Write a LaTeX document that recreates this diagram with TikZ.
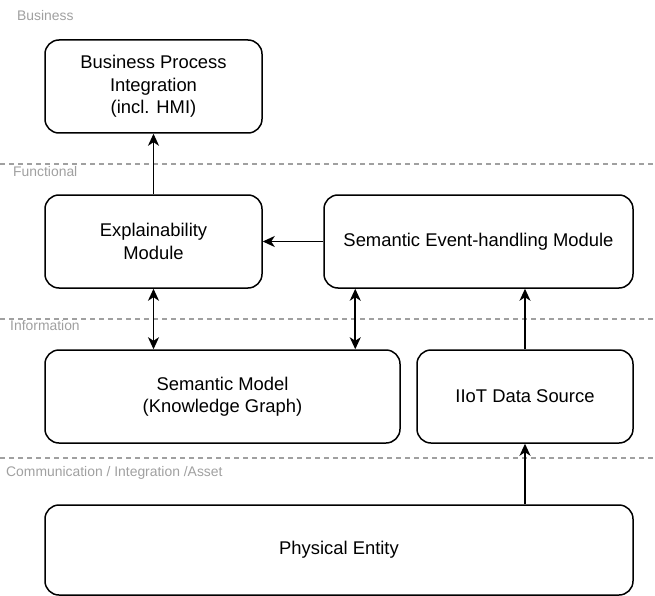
\documentclass[tikz,border=0pt]{standalone}
\usepackage{fontspec}
\setmainfont{Liberation Sans}
\usetikzlibrary{arrows.meta,calc}
\definecolor{layergray}{HTML}{A0A0A0}
\begin{document}
\begin{tikzpicture}[x=1pt,y=-1pt,
  box/.style={draw=black,line width=1.5pt,rounded corners=14pt,inner sep=0pt,
    align=center,font=\fontsize{18.4}{22.5}\selectfont},
  layer/.style={draw=layergray,line width=1.5pt,dash pattern=on 4.5pt off 4.5pt},
  layertext/.style={text=layergray,font=\fontsize{13.9}{16}\selectfont,anchor=west,inner sep=0pt},
  tip/.style={Stealth[length=12pt,width=11pt,inset=3.5pt]},
  conn/.style={line width=1.6pt,-{Stealth[length=12pt,width=11pt,inset=3.5pt]}},
  dconn/.style={line width=1.6pt,{Stealth[length=12pt,width=11pt,inset=3.5pt]}-{Stealth[length=12pt,width=11pt,inset=3.5pt]}}]
\useasboundingbox (0,0) rectangle (655,596);
% layer lines
\draw[layer] (0,164) -- (655,164);
\draw[layer] (0,319) -- (655,319);
\draw[layer] (0,458) -- (655,458);
\node[layertext] (lbus) at (17,16) {Business};
\node[layertext] (lfun) at (13,172) {Functional};
\node[layertext] (linf) at (10,326) {Information};
\node[layertext] (lcom) at (6,473) {Communication / Integration /Asset};
% boxes
\node[box,minimum width=217pt,minimum height=93pt] (biz) at (153.5,86.5) {Business Process\\Integration\\(incl. HMI)};
\node[box,minimum width=217pt,minimum height=93pt] (expl) at (153.5,241.5) {Explainability\\Module};
\node[box,minimum width=309pt,minimum height=93pt] (sem) at (478.5,241.5) {Semantic Event-handling Module};
\node[box,minimum width=355pt,minimum height=93pt] (model) at (222.5,396.5) {Semantic Model\\(Knowledge Graph)};
\node[box,minimum width=216pt,minimum height=93pt] (iiot) at (525,396.5) {IIoT Data Source};
\node[box,minimum width=588pt,minimum height=90pt] (phys) at (339,550) {Physical Entity};
% connectors
\draw[conn] (expl.north) -- (biz.south);
\draw[conn] (sem.west) -- (expl.east);
\draw[dconn] (expl.south) -- (expl.south |- model.north);
\coordinate (semx) at ([xshift=32pt]sem.south west);
\draw[dconn] (semx) -- (semx |- model.north);
\draw[conn] (iiot.north) -- (iiot.north |- sem.south);
\draw[conn] (iiot.south |- phys.north) -- (iiot.south);
\end{tikzpicture}
\end{document}
